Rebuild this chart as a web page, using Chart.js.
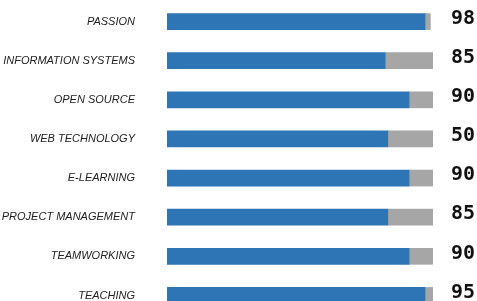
<!DOCTYPE html>
<html>
<head>
<meta charset="utf-8">
<script src="https://cdn.jsdelivr.net/npm/chart.js@4"></script>
<style>
  html, body { margin: 0; padding: 0; background: #fff; overflow: hidden; }
  .chart-wrap { position: relative; width: 477px; height: 315px; }
</style>
</head>
<body>
<div class="chart-wrap"><canvas id="skillsCanvas"></canvas></div>
<script>
// ── Data ── //
const skills = ['PASSION', 'INFORMATION SYSTEMS', 'OPEN SOURCE', 'WEB TECHNOLOGY',
  'E-LEARNING', 'PROJECT MANAGEMENT', 'TEAMWORKING', 'TEACHING'];
const skillLevels = [97, 82, 91, 83, 91, 83, 91, 97];
const skillRest = [2, 18, 9, 17, 9, 17, 9, 3];
const scoreLabels = ['98', '85', '90', '50', '90', '85', '90', '95'];

const BLUE = '#2E75B6';
const GRAY = '#A6A6A6';

// fixed axis widths, and drop the vertical padding chart.js adds from ticks.padding
function fixWidth(width) {
  return (scale) => {
    scale.width = width;
    scale.paddingTop = 0;
    scale.paddingBottom = 0;
  };
}

// ── Render Skill Bars ── //
const ctx = document.getElementById('skillsCanvas');
new Chart(ctx, {
  type: 'bar',
  data: {
    labels: skills,
    datasets: [
      {
        label: 'Level',
        data: skillLevels,
        backgroundColor: BLUE,
        borderWidth: 0,
        barThickness: 16,
      },
      {
        label: 'Rest',
        data: skillRest,
        backgroundColor: GRAY,
        borderWidth: 0,
        barThickness: 16,
      },
    ],
  },
  options: {
    indexAxis: 'y',
    responsive: true,
    maintainAspectRatio: false,
    animation: false,
    layout: { padding: { top: 2, bottom: 0, left: 0, right: 0 } },
    scales: {
      x: {
        stacked: true,
        display: false,
        min: 0,
        max: 100,
      },
      y: {
        stacked: true,
        position: 'left',
        grid: { display: false, drawTicks: false },
        border: { display: false },
        ticks: {
          color: '#222',
          padding: 32,
          font: { family: '"Liberation Sans", sans-serif', size: 11, style: 'italic' },
        },
        afterFit: fixWidth(167),
      },
      score: {
        type: 'category',
        axis: 'y',
        position: 'right',
        labels: scoreLabels,
        offset: true,
        grid: { display: false, drawTicks: false },
        border: { display: false },
        ticks: {
          color: '#111',
          padding: 18,
          labelOffset: -3,
          font: { family: '"DejaVu Sans Mono", monospace', size: 20, weight: 'bold' },
        },
        afterFit: fixWidth(44),
      },
    },
    plugins: {
      legend: { display: false },
      tooltip: { enabled: false },
    },
  },
});
</script>
</body>
</html>
